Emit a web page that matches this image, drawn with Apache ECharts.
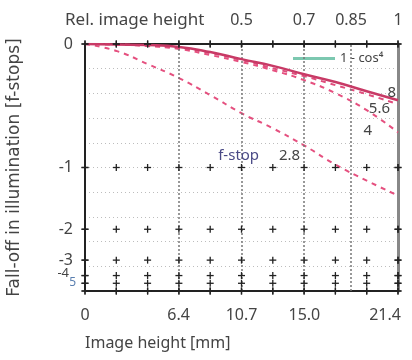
<!DOCTYPE html>
<html>
<head>
<meta charset="utf-8">
<script src="https://cdn.jsdelivr.net/npm/echarts@6/dist/echarts.min.js"></script>
<style>
html,body{margin:0;padding:0;background:#fff;}
#chart{width:412px;height:360px;}
</style>
</head>
<body>
<div id="chart"></div>
<script>
// image height in mm, one point per 0.1 of relative image height
var imageHeight = [0, 2.14, 4.28, 6.42, 8.56, 10.7, 12.84, 14.98, 17.12, 19.26, 21.4];
var xTickLabels = [0, 6.4, 10.7, 15.0, 21.4];
var relHeightLabels = [0.5, 0.7, 0.85, 1];
var guideLines = [6.42, 10.7, 14.98, 18.19];
var stopTicks = [0, -1, -2, -3, -4, -5];

// fall-off in f-stops for each aperture
var stop8  = [0, -0.003, -0.006, -0.017, -0.048, -0.091, -0.134, -0.188, -0.241, -0.306, -0.373];
var stop56 = [0, -0.003, -0.009, -0.023, -0.054, -0.097, -0.149, -0.201, -0.263, -0.328, -0.403];
var stop4  = [0, -0.003, -0.012, -0.029, -0.066, -0.109, -0.162, -0.228, -0.320, -0.450, -0.639];
var stop28 = [0, -0.041, -0.122, -0.214, -0.334, -0.474, -0.602, -0.763, -0.966, -1.162, -1.373];

var FONT = 'Noto Sans';
var TXT = '#444';
var X_MAX = 21.4;

// y axis is linear in relative illumination, labelled in stops
function illum(s){ return Math.pow(2, s); }
function toPairs(arr){
    return imageHeight.map(function(x, i){ return [x, illum(arr[i])]; });
}

// grid crosses at every 0.1 image height, on each stop level and on the bottom edge
var crosses = [];
for (var i = 0; i < imageHeight.length; i++) {
    for (var j = 0; j < stopTicks.length; j++) {
        crosses.push([imageHeight[i], illum(stopTicks[j])]);
    }
    crosses.push([imageHeight[i], 0]);
}
function onEdge(c){ return c[0] === 0 || c[0] === X_MAX || c[1] === 0 || c[1] === 1; }

function crossShapes(p){
    var st = { stroke: '#222', lineWidth: 1.3 };
    return [
        { type: 'line', shape: { x1: p[0] - 3.5, y1: p[1], x2: p[0] + 3.5, y2: p[1] }, style: st, z: 20 },
        { type: 'line', shape: { x1: p[0], y1: p[1] - 3.5, x2: p[0], y2: p[1] + 3.5 }, style: st, z: 20 }
    ];
}
function renderCross(params, api){
    var p = api.coord([api.value(0), api.value(1)]);
    return { type: 'group', children: crossShapes(p) };
}

var chart = echarts.init(document.getElementById('chart'));
chart.setOption({
    animation: false,
    grid: { left: 85, right: 14, top: 44, bottom: 69, outerBoundsMode: 'none', containLabel: false },
    legend: {
        left: 288, top: 47,
        itemWidth: 42, itemHeight: 3, itemGap: 6,
        textStyle: { fontFamily: FONT, fontSize: 13, color: TXT },
        data: [{ name: '1 - cos⁴', icon: 'rect', itemStyle: { color: '#7cc8b0' } }]
    },
    xAxis: [
        {
            type: 'value', min: 0, max: X_MAX, position: 'bottom',
            axisLine: { onZero: false, lineStyle: { color: '#222', width: 2 } },
            axisTick: { show: false },
            splitLine: { show: false },
            axisLabel: {
                customValues: xTickLabels, margin: 16, hideOverlap: false,
                fontFamily: FONT, fontSize: 16, color: TXT,
                formatter: function(v){
                    if (v === 0) return '0';
                    return v === X_MAX ? '{r|' + v.toFixed(1) + '}' : v.toFixed(1);
                },
                rich: { r: { fontFamily: FONT, fontSize: 16, color: TXT, padding: [0, 26, 0, 0] } }
            },
            name: 'Image height [mm]', nameLocation: 'start', nameGap: 0, nameMoveOverlap: false,
            nameTextStyle: { fontFamily: FONT, fontSize: 16, color: TXT, align: 'left', verticalAlign: 'top', padding: [44, 0, 0, 0] }
        },
        {
            type: 'value', min: 0, max: 1, position: 'top',
            axisLine: { onZero: false, lineStyle: { color: '#222', width: 2 } },
            axisTick: { show: false },
            splitLine: { show: false },
            axisLabel: {
                customValues: relHeightLabels, margin: 16, hideOverlap: false,
                fontFamily: FONT, fontSize: 16, color: TXT,
                formatter: function(v){ return String(v); }
            },
            name: 'Rel. image height', nameLocation: 'start', nameGap: 20, nameMoveOverlap: false,
            nameTextStyle: { fontFamily: FONT, fontSize: 17, color: TXT, align: 'left', verticalAlign: 'bottom', padding: [0, 0, 15, 0] }
        }
    ],
    yAxis: [
        {
            type: 'value', min: 0, max: 1, interval: 0.1,
            axisLine: { show: true, onZero: false, lineStyle: { color: '#222', width: 2 } },
            axisTick: { show: false },
            splitLine: { show: true, lineStyle: { color: '#bdbdbd', type: [1, 3], width: 1 } },
            axisLabel: {
                customValues: stopTicks.slice(0, 4).map(illum), margin: 12, hideOverlap: false,
                showMinLabel: true, showMaxLabel: true,
                fontFamily: FONT, fontSize: 16, color: TXT,
                formatter: function(v){
                    var s = Math.round(Math.log2(v));
                    return s === 0 ? '0' : String(s);
                }
            },
            name: 'Fall-off in illumination [f-stops]', nameLocation: 'middle', nameGap: 62, nameMoveOverlap: false,
            nameTextStyle: { fontFamily: 'DejaVu Sans', fontSize: 17, color: TXT }
        },
        {
            type: 'value', min: 0, max: 1, position: 'right',
            axisLine: { show: true, onZero: false, lineStyle: { color: '#888', width: 3 } },
            axisTick: { show: false }, axisLabel: { show: false }, splitLine: { show: false }
        }
    ],
    series: [
        {
            name: 'crosses', type: 'custom', data: crosses, clip: false, silent: true,
            renderItem: renderCross,
            markLine: {
                silent: true, symbol: ['none', 'none'], label: { show: false },
                lineStyle: { color: '#777', type: [2, 2], width: 1.5 },
                data: guideLines.map(function(x){ return { xAxis: x }; })
            },
            z: 6
        },
        {
            name: '1 - cos⁴', type: 'line', data: [], symbol: 'none',
            lineStyle: { color: '#7cc8b0', width: 2, type: [2, 2] },
            itemStyle: { color: '#7cc8b0' }
        },
        {
            name: 'f/2.8', type: 'line', data: toPairs(stop28), smooth: true, symbol: 'none',
            lineStyle: { color: '#e5507f', width: 2, type: [5, 5] }, z: 4
        },
        {
            name: 'f/4', type: 'line', data: toPairs(stop4), smooth: true, symbol: 'none',
            lineStyle: { color: '#e5507f', width: 2, type: [5, 5] }, z: 4
        },
        {
            name: 'f/5.6', type: 'line', data: toPairs(stop56), smooth: true, symbol: 'none',
            lineStyle: { color: '#e04c7c', width: 2, type: [5, 5] }, z: 4
        },
        {
            name: 'f/8', type: 'line', data: toPairs(stop8), smooth: true, symbol: 'none',
            lineStyle: { color: '#c83a66', width: 2.5 }, z: 5
        }
    ]
});

// aperture labels and edge crosses placed through the grid's scales
function toPx(c){ return chart.convertToPixel({ gridIndex: 0 }, c); }
function px(x, s){ return toPx([x, illum(s)]); }
var last = imageHeight.length - 1;
var p8 = px(imageHeight[last], stop8[last]);
var p56 = px(imageHeight[last], stop56[last]);
var p4 = px(imageHeight[last], stop4[last]);
var p28 = px(imageHeight[7], stop28[7]);
var pM4 = px(0, stopTicks[4]);
var pM5 = px(0, stopTicks[5]);
function txt(x, y, text, align, color, size){
    return { type: 'text', x: x, y: y, style: { text: text, fill: color || TXT, font: (size || 15) + 'px "' + FONT + '"', align: align, verticalAlign: 'middle' }, z: 10 };
}
var graphics = [
    txt(p8[0] - 2, p8[1] - 8, '8', 'right'),
    txt(p56[0] - 8, p56[1] + 5, '5.6', 'right'),
    txt(p4[0] - 26, p4[1] - 2, '4', 'right'),
    txt(p28[0] - 4, p28[1] + 10, '2.8', 'right'),
    txt(p28[0] - 45, p28[1] + 10, 'f-stop', 'right', '#4a4a86'),
    txt(pM4[0] - 16, pM4[1] - 2, '-4', 'right', TXT, 13),
    txt(pM5[0] - 9, pM5[1] - 1, '5', 'right', '#5a7fb0', 12)
];
crosses.filter(onEdge).forEach(function(c){
    graphics = graphics.concat(crossShapes(toPx(c)));
});
chart.setOption({ graphic: graphics });
</script>
</body>
</html>
